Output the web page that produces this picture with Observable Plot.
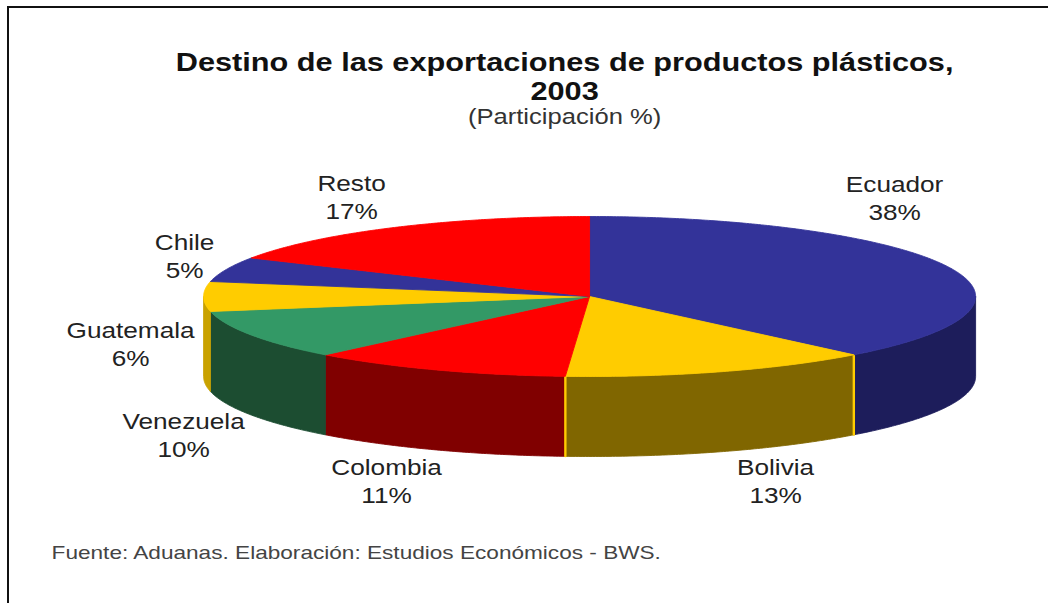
<!DOCTYPE html>
<html><head><meta charset="utf-8">
<script src="https://cdn.jsdelivr.net/npm/d3@7"></script>
<script src="https://cdn.jsdelivr.net/npm/@observablehq/plot@0.6"></script>
<style>
html,body{margin:0;padding:0;background:#fff;}
#wrap{position:relative;width:1048px;height:603px;overflow:hidden;background:#fff;}
#chart{position:absolute;left:0;top:0;}
#frame{position:absolute;left:7px;top:6px;width:1100px;height:700px;border-top:2px solid #111;border-left:2px solid #111;}
</style></head><body>
<div id="wrap"><div id="chart"></div><div id="frame"></div></div>
<script>
// ---- data ----
const categories = ["Ecuador", "Bolivia", "Colombia", "Venezuela", "Guatemala", "Chile", "Resto"];
const values = [38, 13, 11, 10, 6, 5, 17];
const topColors = ["#333399", "#FFCC00", "#FF0000", "#339966", "#FFCC00", "#333399", "#FF0000"];
const sideColors = ["#1d1d5b", "#806600", "#800000", "#1c4d31", "#c9a200", "#1d1d5b", "#800000"];
const titleLines = ["Destino de las exportaciones de productos plásticos,", "2003"];
const subtitle = "(Participación %)";
const source = "Fuente: Aduanas. Elaboración: Estudios Económicos - BWS.";

// ---- layout ----
const W = 1048, H = 603, STRETCH = 1.19, Wp = W / STRETCH;
const pie = {cx: 589, cy: 296, rx: 386, ry: 80, depth: 80};
const labelPos = {
  Ecuador: [894, 219], Bolivia: [775, 502], Colombia: [386, 502], Venezuela: [183, 456],
  Guatemala: [130, 365], Chile: [184, 277], Resto: [351, 218]
};
const font = "'Liberation Sans', Arial, sans-serif";

// ---- geometry from values ----
const total = d3.sum(values);
const pt = (a, dy = 0) => ({x: pie.cx + pie.rx * Math.sin(a), y: pie.cy - pie.ry * Math.cos(a) + dy});
const arc = (a0, a1, dy = 0) => {
  const n = Math.max(2, Math.ceil((a1 - a0) / (Math.PI / 360)));
  return d3.range(n + 1).map(i => pt(a0 + (a1 - a0) * i / n, dy));
};
let acc = 0;
const slices = categories.map((c, i) => {
  const a0 = acc / total * 2 * Math.PI;
  acc += values[i];
  const a1 = acc / total * 2 * Math.PI;
  return {c, i, a0, a1};
});

const marks = [];
// sides (front half only)
for (const s of slices) {
  const b0 = Math.max(s.a0, Math.PI / 2), b1 = Math.min(s.a1, 3 * Math.PI / 2);
  if (b1 > b0) {
    const pts = [...arc(b0, b1), ...arc(b0, b1, pie.depth).reverse()];
    pts.push(pts[0]);
    marks.push(Plot.line(pts, {x: "x", y: "y", fill: sideColors[s.i], stroke: sideColors[s.i], strokeWidth: 0.8}));
  }
}
// yellow edges of Bolivia side
{
  const s = slices[1];
  for (const a of [s.a0, s.a1]) {
    marks.push(Plot.line([pt(a), pt(a, pie.depth)], {x: "x", y: "y", stroke: "#FFCC00", strokeWidth: 2}));
  }
}
// tops
for (const s of slices) {
  const pts = [{x: pie.cx, y: pie.cy}, ...arc(s.a0, s.a1), {x: pie.cx, y: pie.cy}];
  marks.push(Plot.line(pts, {x: "x", y: "y", fill: topColors[s.i], stroke: topColors[s.i], strokeWidth: 0.8}));
}
// slice labels
const labels = categories.map((c, i) => ({x: labelPos[c][0], y: labelPos[c][1], text: `${c}\n${values[i]}%`}));
marks.push(Plot.text(labels, {x: "x", y: "y", text: "text", fontSize: 22, lineHeight: 1.27, lineAnchor: "bottom", fill: "#222", fontFamily: font}));
// title, subtitle, source
marks.push(Plot.text([titleLines[0]], {x: () => 564, y: () => 70, text: d => d, fontSize: 25.8, fontWeight: "bold", lineAnchor: "bottom", fill: "#111", fontFamily: font}));
marks.push(Plot.text([titleLines[1]], {x: () => 564, y: () => 99, text: d => d, fontSize: 25.8, fontWeight: "bold", lineAnchor: "bottom", fill: "#111", fontFamily: font}));
marks.push(Plot.text([subtitle], {x: () => 564, y: () => 123, text: d => d, fontSize: 21.5, lineAnchor: "bottom", fill: "#333", fontFamily: font}));
marks.push(Plot.text([source], {x: () => 51, y: () => 558, text: d => d, fontSize: 19, textAnchor: "start", lineAnchor: "bottom", fill: "#444", fontFamily: font}));

const chart = Plot.plot({
  width: Wp, height: H, margin: 0,
  x: {domain: [0, W], range: [0, Wp], axis: null},
  y: {domain: [0, H], range: [0, H], axis: null},
  style: {background: "transparent"},
  marks
});
chart.setAttribute("width", W);
chart.setAttribute("height", H);
chart.setAttribute("preserveAspectRatio", "none");
chart.style.width = W + "px";
chart.style.height = H + "px";
chart.style.maxWidth = "none";
document.getElementById("chart").appendChild(chart);
</script>
</body></html>
